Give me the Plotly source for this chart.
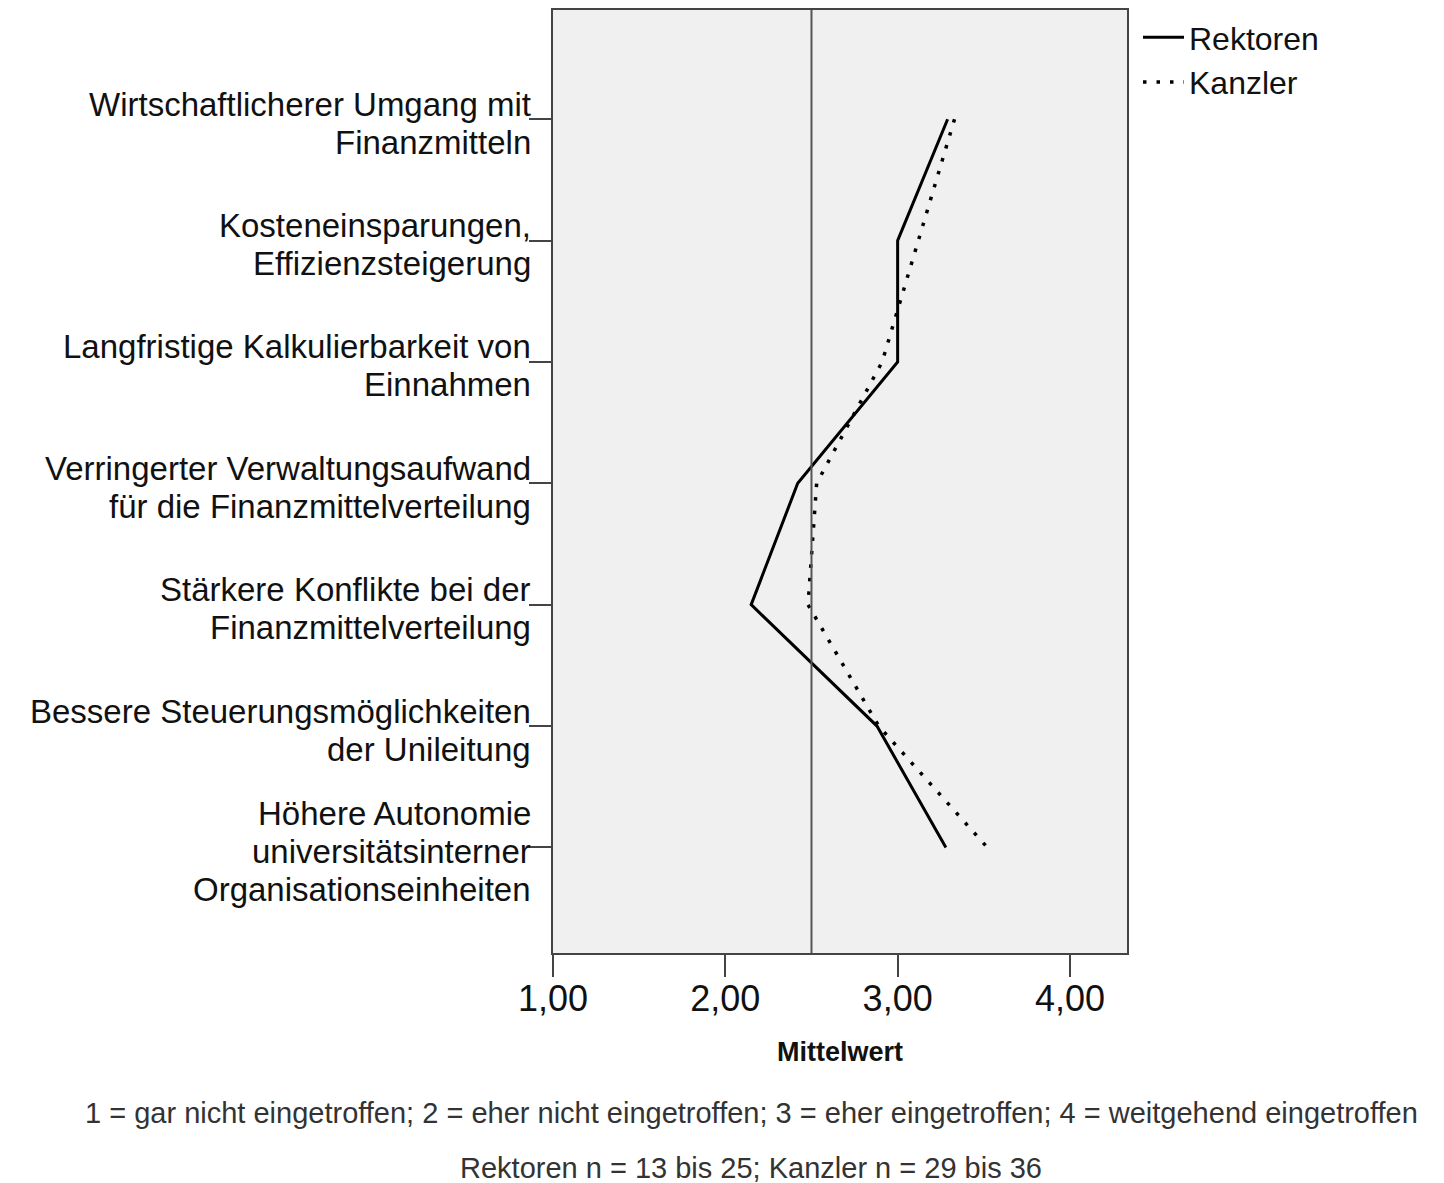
import plotly.graph_objects as go

# items shown top to bottom on the y axis (line breaks as in the original)
items = [
    "Wirtschaftlicherer Umgang mit<br>Finanzmitteln",
    "Kosteneinsparungen,<br>Effizienzsteigerung",
    "Langfristige Kalkulierbarkeit von<br>Einnahmen",
    "Verringerter Verwaltungsaufwand<br>für die Finanzmittelverteilung",
    "Stärkere Konflikte bei der<br>Finanzmittelverteilung",
    "Bessere Steuerungsmöglichkeiten<br>der Unileitung",
    "Höhere Autonomie<br>universitätsinterner<br>Organisationseinheiten",
]
pos = list(range(len(items)))

# mean values (1..4 scale)
rektoren = [3.29, 3.00, 3.00, 2.42, 2.15, 2.88, 3.28]
kanzler = [3.33, 3.12, 2.91, 2.53, 2.48, 2.89, 3.52]

xticks = [1, 2, 3, 4]
xticklabels = ["1,00", "2,00", "3,00", "4,00"]
midpoint = 2.5

note1 = "1 = gar nicht eingetroffen; 2 = eher nicht eingetroffen; 3 = eher eingetroffen; 4 = weitgehend eingetroffen"
note2 = "Rektoren n = 13 bis 25; Kanzler n = 29 bis 36"

FONT = "Liberation Sans, Arial, sans-serif"

# the page adds an 8px body margin, so figure px = picture px - 8
W, H = 1444, 1183
L, T = 545, 0
pw, ph = 574, 945
R, B = W - L - pw, H - T - ph

fig = go.Figure()
fig.add_trace(go.Scatter(x=rektoren, y=pos, mode="lines", name="Rektoren",
                         line=dict(color="black", width=3)))
fig.add_trace(go.Scatter(x=kanzler, y=pos, mode="lines", name="Kanzler",
                         line=dict(color="black", width=3.5, dash="3.5px,10px")))

# reference line at the scale midpoint
fig.add_shape(type="line", x0=midpoint, x1=midpoint, y0=0, y1=1,
              xref="x", yref="y domain", line=dict(color="#555555", width=2))

# category labels: one annotation per line to keep the tight line spacing
LINE = 38
for p, item in zip(pos, items):
    lines = item.split("<br>")
    n = len(lines)
    for j, txt in enumerate(lines):
        fig.add_annotation(text=txt, x=0, y=p, xref="paper", yref="y",
                           xanchor="right", yanchor="middle", showarrow=False,
                           xshift=-20, yshift=-(4 + (j - (n - 1) / 2) * LINE),
                           font=dict(size=33, color="#111111", family=FONT))

fig.update_xaxes(range=[1, 4.331], tickvals=xticks, ticktext=xticklabels,
                 ticks="outside", ticklen=22, tickwidth=2, tickcolor="#444444",
                 tickfont=dict(size=36, color="#111111", family=FONT),
                 ticklabelstandoff=-9,
                 showline=True, mirror=True, linecolor="#444444", linewidth=2,
                 showgrid=False, zeroline=False,
                 title=dict(text="<b>Mittelwert</b>", font=dict(size=27, family=FONT, color="#111111"),
                            standoff=24))
fig.update_yaxes(range=[6.87, -0.9], tickvals=pos, ticktext=[""] * len(pos),
                 ticks="outside", ticklen=22, tickwidth=2, tickcolor="#444444",
                 showline=True, mirror=True, linecolor="#444444", linewidth=2,
                 showgrid=False, zeroline=False)

for txt, px, py in [(note1, 743, 1105), (note2, 743, 1160)]:
    fig.add_annotation(text=txt, x=(px - L) / pw, y=(H - B - py) / ph,
                       xref="paper", yref="paper", showarrow=False,
                       xanchor="center", yanchor="middle",
                       font=dict(size=29, color="#333333", family=FONT))

fig.update_layout(
    width=W, height=H,
    margin=dict(l=L, r=R, t=T, b=B),
    plot_bgcolor="#f0f0f0", paper_bgcolor="white",
    font=dict(family=FONT, color="#111111"),
    showlegend=True,
    legend=dict(x=(1130 - L) / pw, y=1.0, xanchor="left", yanchor="top",
                font=dict(size=32, family=FONT, color="#111111"),
                bgcolor="rgba(0,0,0,0)", itemwidth=41, tracegroupgap=0),
)

fig.write_html("out.html")
